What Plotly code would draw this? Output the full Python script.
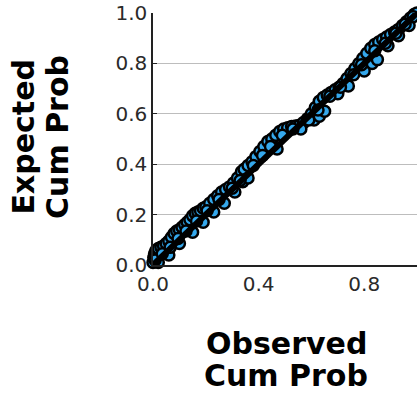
import plotly.graph_objects as go

# Observed vs. expected cumulative probabilities (P-P plot)
observed_cum_prob = [
    0.000, 0.003, 0.006, 0.010, 0.015, 0.020, 0.030, 0.040, 0.050, 0.060,
    0.070, 0.080, 0.090, 0.100, 0.110, 0.120, 0.130, 0.140, 0.150, 0.160,
    0.170, 0.180, 0.190, 0.200, 0.215, 0.230, 0.245, 0.260, 0.275, 0.290,
    0.305, 0.320, 0.335, 0.345, 0.360, 0.375, 0.390, 0.405, 0.420, 0.435,
    0.450, 0.465, 0.480, 0.495, 0.510, 0.525, 0.540, 0.555, 0.570, 0.585,
    0.600, 0.615, 0.630, 0.645, 0.660, 0.675, 0.690, 0.705, 0.720, 0.735,
    0.750, 0.765, 0.780, 0.795, 0.810, 0.825, 0.840, 0.855, 0.870, 0.885,
    0.900, 0.915, 0.930, 0.945, 0.960, 0.975, 0.990, 1.000,
    0.020, 0.060, 0.100, 0.150, 0.190, 0.230, 0.270, 0.310, 0.340, 0.360,
    0.470, 0.560, 0.610, 0.630, 0.650, 0.700, 0.740, 0.800, 0.830, 0.850,
    0.890, 0.930, 0.970,
    0.008, 0.035, 0.065, 0.095, 0.125, 0.165, 0.205, 0.250, 0.300, 0.330,
    0.380, 0.415, 0.445, 0.490, 0.530, 0.590, 0.625, 0.670, 0.710, 0.760,
    0.790, 0.840, 0.880, 0.920, 0.955, 0.985,
]
expected_cum_prob = [
    0.010, 0.030, 0.045, 0.055, 0.060, 0.065, 0.070, 0.075, 0.085, 0.095,
    0.110, 0.125, 0.135, 0.140, 0.150, 0.160, 0.170, 0.180, 0.195, 0.205,
    0.210, 0.215, 0.225, 0.230, 0.245, 0.260, 0.275, 0.290, 0.300, 0.310,
    0.325, 0.345, 0.370, 0.380, 0.395, 0.410, 0.430, 0.450, 0.470, 0.490,
    0.500, 0.515, 0.530, 0.540, 0.545, 0.550, 0.552, 0.555, 0.565, 0.580,
    0.600, 0.625, 0.650, 0.665, 0.675, 0.685, 0.695, 0.705, 0.720, 0.740,
    0.760, 0.780, 0.800, 0.820, 0.840, 0.860, 0.875, 0.885, 0.895, 0.905,
    0.915, 0.925, 0.935, 0.950, 0.965, 0.980, 0.995, 1.000,
    0.010, 0.040, 0.085, 0.130, 0.170, 0.210, 0.245, 0.290, 0.330, 0.345,
    0.460, 0.540, 0.575, 0.590, 0.610, 0.680, 0.710, 0.770, 0.800, 0.815,
    0.870, 0.910, 0.950,
    0.020, 0.045, 0.070, 0.105, 0.135, 0.175, 0.215, 0.260, 0.305, 0.335,
    0.395, 0.435, 0.470, 0.515, 0.540, 0.575, 0.615, 0.670, 0.705, 0.755,
    0.795, 0.850, 0.880, 0.920, 0.955, 0.985,
]

# Diagonal reference line
ref_line = [0.0, 1.0]

tick_vals = [0.0, 0.2, 0.4, 0.6, 0.8, 1.0]
x_tick_vals = [0.0, 0.4, 0.8]

FONT = "DejaVu Sans"

fig = go.Figure()
fig.add_trace(go.Scatter(
    x=observed_cum_prob, y=expected_cum_prob, mode="markers",
    marker=dict(size=11, color="#35A8EC", line=dict(color="#000000", width=2.5)),
    cliponaxis=False, showlegend=False,
))
fig.add_trace(go.Scatter(
    x=ref_line, y=ref_line, mode="lines",
    line=dict(color="#000000", width=6),
    cliponaxis=False, showlegend=False,
))

fig.update_layout(
    width=417, height=396,
    margin=dict(l=153, r=0, t=13, b=131),
    plot_bgcolor="white", paper_bgcolor="white",
    font=dict(family=FONT, size=20, color="#2a2a2a"),
    xaxis=dict(
        range=[0, 1.0], tickvals=x_tick_vals, tickformat=".1f",
        showgrid=False, zeroline=False,
        showline=True, linecolor="#222222", linewidth=1.5,
        ticks="", ticklen=0,
    ),
    yaxis=dict(
        range=[0, 1.0], tickvals=tick_vals, tickformat=".1f",
        showgrid=True, gridcolor="#BDBDBD", gridwidth=1,
        zeroline=False,
        showline=True, linecolor="#222222", linewidth=1.5,
        ticks="inside", ticklen=4, tickcolor="#222222",
    ),
)

title_font = dict(family=FONT, size=30, color="#000000", weight="bold")
fig.add_annotation(text="Observed", xref="paper", yref="paper",
                   x=0.504, y=-0.31, xanchor="center", yanchor="middle",
                   showarrow=False, font=title_font)
fig.add_annotation(text="Cum Prob", xref="paper", yref="paper",
                   x=0.504, y=-0.437, xanchor="center", yanchor="middle",
                   showarrow=False, font=title_font)
fig.add_annotation(text="Expected", xref="paper", yref="paper",
                   x=-0.49, y=0.508, xanchor="center", yanchor="middle",
                   textangle=-90, showarrow=False, font=title_font)
fig.add_annotation(text="Cum Prob", xref="paper", yref="paper",
                   x=-0.36, y=0.508, xanchor="center", yanchor="middle",
                   textangle=-90, showarrow=False, font=title_font)

fig.write_html("out.html")
